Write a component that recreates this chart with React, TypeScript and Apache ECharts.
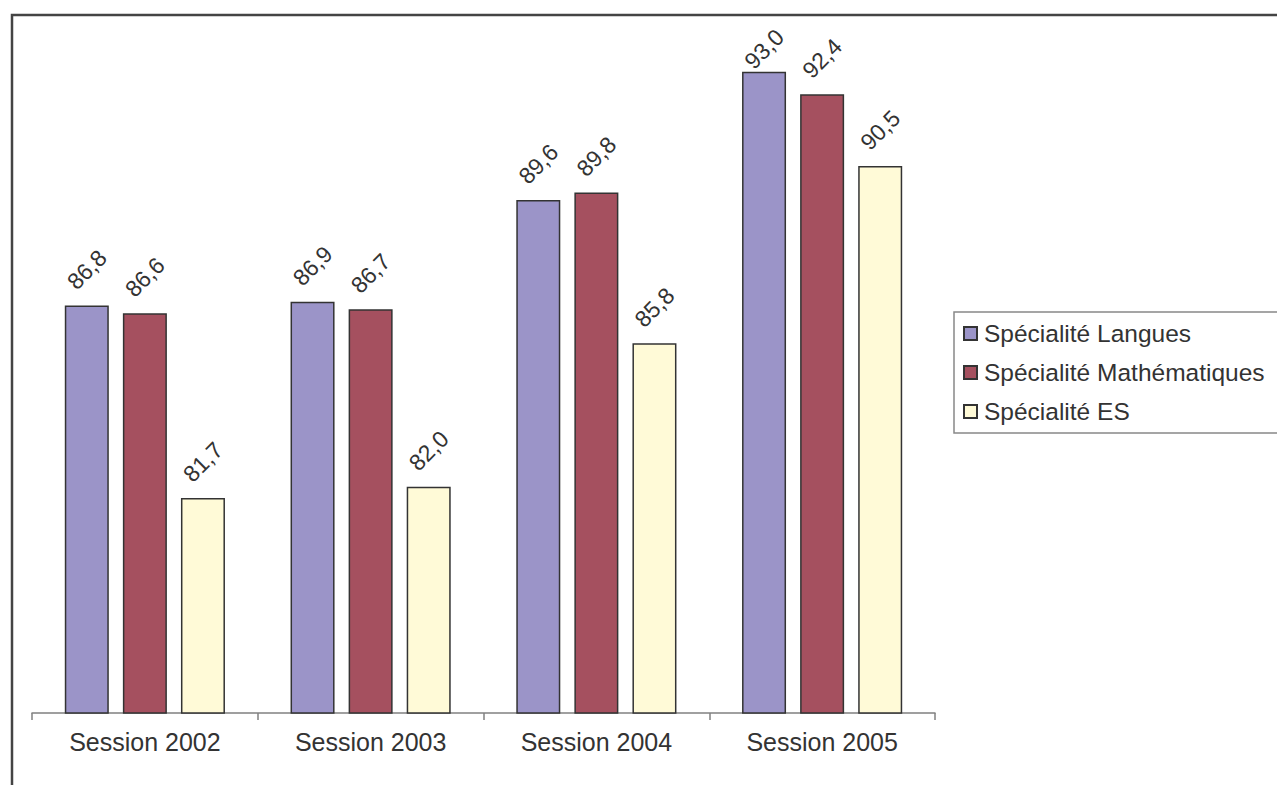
import React, { useEffect, useRef } from "react";
import * as echarts from "echarts";

const categories = ["Session 2002", "Session 2003", "Session 2004", "Session 2005"];
const seriesNames = ["Spécialité Langues", "Spécialité Mathématiques", "Spécialité ES"];
const langues = [86.8, 86.9, 89.6, 93.0];
const maths = [86.6, 86.7, 89.8, 92.4];
const es = [81.7, 82.0, 85.8, 90.5];
const colors = ["#9B94C8", "#A5505F", "#FFFAD7"];

const FONT = "'Liberation Sans', Arial, sans-serif";

export default function App() {
  const ref = useRef<HTMLDivElement>(null);
  useEffect(() => {
    if (!ref.current) return;
    const chart = echarts.init(ref.current, null, { renderer: "svg" });
    const values = [langues, maths, es];
    chart.setOption({
      animation: false,
      backgroundColor: "#ffffff",
      textStyle: { fontFamily: FONT, color: "#333333" },
      grid: { left: 32, right: 342, top: 34, bottom: 72 },
      legend: {
        data: seriesNames,
        orient: "vertical",
        left: 958,
        top: 316,
        itemWidth: 13,
        itemHeight: 13,
        itemGap: 14,
        icon: "rect",
        textStyle: { fontFamily: FONT, fontSize: 24.5, color: "#333333", padding: [0, 0, 0, 2] },
        selectedMode: false,
      },
      xAxis: {
        type: "category",
        data: categories,
        axisLine: { lineStyle: { color: "#808080", width: 1.5 } },
        axisTick: { show: true, length: 7, lineStyle: { color: "#808080", width: 1.5 } },
        axisLabel: { fontFamily: FONT, fontSize: 25, color: "#333333", margin: 16 },
      },
      yAxis: {
        type: "value",
        min: 76,
        max: 94,
        show: false,
        splitLine: { show: false },
      },
      graphic: [
        {
          type: "rect",
          shape: { x: 12, y: 15, width: 1400, height: 900 },
          style: { fill: "none", stroke: "#444444", lineWidth: 2.5 },
          z: 100,
        },
        {
          type: "rect",
          shape: { x: 954, y: 312, width: 400, height: 121 },
          style: { fill: "none", stroke: "#888888", lineWidth: 1.5 },
          z: 100,
        },
      ],
      labelLayout: (params: any) => {
        const r = params.labelRect;
        if (r && r.y < 25) {
          return { y: 25 + r.height / 2 };
        }
        return {};
      },
      series: seriesNames.map((name, i) => ({
        name,
        type: "bar",
        data: values[i],
        barWidth: 44,
        barGap: "32%",
        itemStyle: { color: colors[i], borderColor: "#333333", borderWidth: 1.5 },
        label: {
          show: true,
          position: "top",
          distance: 36,
          rotate: 45,
          align: "center",
          verticalAlign: "middle",
          fontFamily: FONT,
          fontSize: 23,
          color: "#333333",
          formatter: (p: any) => p.value.toFixed(1).replace(".", ","),
        },
      })),
    });
    return () => chart.dispose();
  }, []);
  return (
    <div
      ref={ref}
      style={{ position: "fixed", left: 0, top: 0, width: 1277, height: 785 }}
    />
  );
}
